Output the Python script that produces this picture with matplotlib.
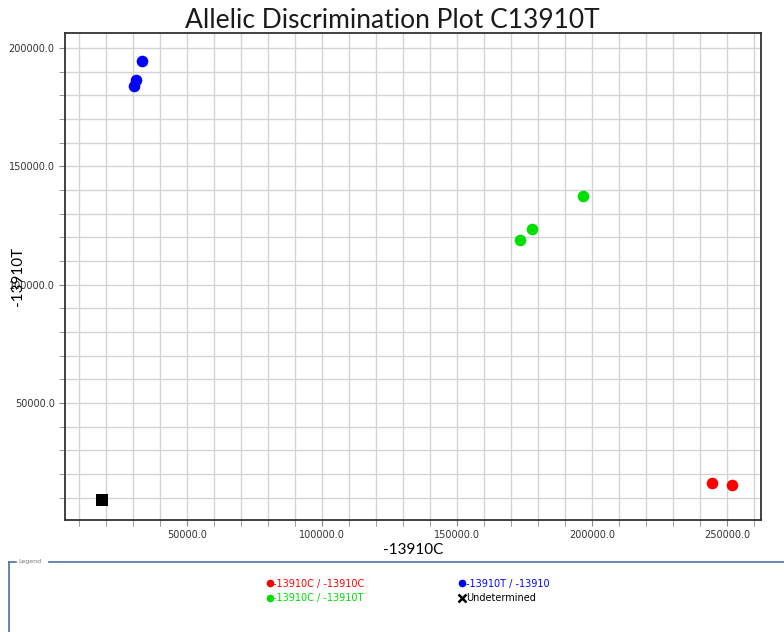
import numpy as np
import matplotlib
matplotlib.use("Agg")
import matplotlib.pyplot as plt
from matplotlib.lines import Line2D
from matplotlib.ticker import MultipleLocator, FormatStrFormatter

# allele signal values
cc_x = [244400, 251900]
cc_y = [16100, 15200]
ct_x = [196700, 177800, 173300]
ct_y = [137400, 123400, 118800]
tt_x = [33300, 31100, 30400]
tt_y = [194400, 186400, 183900]
und_x = [18500]
und_y = [8900]

groups = [
    ("-13910C / -13910C", cc_x, cc_y, "#ff0000", "o"),
    ("-13910T / -13910", tt_x, tt_y, "#0000ff", "o"),
    ("-13910C / -13910T", ct_x, ct_y, "#00e000", "o"),
    ("Undetermined", und_x, und_y, "#000000", "s"),
]

fig = plt.figure(figsize=(7.84, 6.32), dpi=100)
ax = fig.add_axes([0.0829, 0.1772, 0.8878, 0.7706])

for name, xs, ys, col, mk in groups:
    ax.scatter(xs, ys, s=70 if mk == "o" else 75, c=col, marker=mk,
               zorder=3, linewidths=0)

ax.set_xlim(4800, 262600)
ax.set_ylim(500, 206300)

ax.xaxis.set_major_locator(MultipleLocator(50000))
ax.xaxis.set_minor_locator(MultipleLocator(10000))
ax.yaxis.set_major_locator(MultipleLocator(50000))
ax.yaxis.set_minor_locator(MultipleLocator(10000))
ax.xaxis.set_major_formatter(FormatStrFormatter("%.1f"))
ax.yaxis.set_major_formatter(FormatStrFormatter("%.1f"))
ax.grid(True, which="both", color="#d4d4d4", linewidth=1.0)
ax.set_axisbelow(True)
ax.tick_params(which="both", direction="out", length=4, color="#888888",
               labelsize=7, labelcolor="#333333")
for s in ax.spines.values():
    s.set_color("#333333")
    s.set_linewidth(1.3)

fig.text(0.5, 0.968, "Allelic Discrimination Plot C13910T", ha="center",
         va="center", fontsize=19, family="Lato", weight="normal",
         color="#1a1a1a")
ax.set_xlabel("-13910C", fontsize=11, family="Lato", labelpad=2)
ax.set_ylabel("-13910T", fontsize=11, family="Lato", labelpad=-12)

# legend panel at the bottom
frame_col = "#4a72a8"
fig.add_artist(Line2D([0.011, 0.011], [0.0, 0.111], color=frame_col,
                      lw=1.2, transform=fig.transFigure))
fig.add_artist(Line2D([0.011, 0.021], [0.111, 0.111], color=frame_col,
                      lw=1.2, transform=fig.transFigure))
fig.add_artist(Line2D([0.062, 1.0], [0.111, 0.111], color=frame_col,
                      lw=1.2, transform=fig.transFigure))
fig.text(0.024, 0.111, "Legend", fontsize=4.5, color="#777777",
         va="center", ha="left")

handles = []
for name, xs, ys, col, mk in groups:
    if mk == "s":
        handles.append(Line2D([], [], ls="none", marker="x", color=col,
                              markersize=6, markeredgewidth=1.8))
    else:
        handles.append(Line2D([], [], ls="none", marker="o", color=col,
                              markersize=4.5))
# order to fill columns: col1 = red, green ; col2 = blue, undetermined
order = [0, 2, 1, 3]
leg = fig.legend([handles[i] for i in order], [groups[i][0] for i in order],
                 ncol=2, loc="upper left", bbox_to_anchor=(0.329, 0.098),
                 frameon=False, handlelength=0.6, fontsize=7,
                 handletextpad=0.1, columnspacing=9.7, labelspacing=0.45)
for txt, i in zip(leg.get_texts(), order):
    txt.set_color(groups[i][3])

fig.savefig("out.png", dpi=100)
